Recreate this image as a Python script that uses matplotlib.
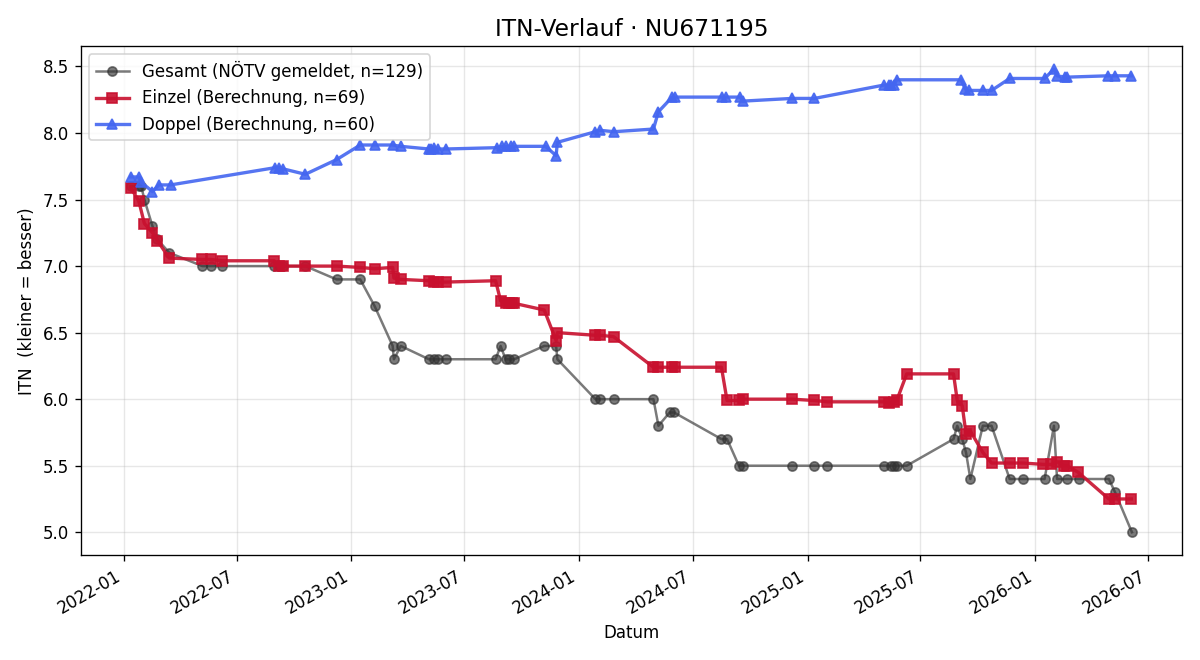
import pandas as pd
import matplotlib
matplotlib.use("Agg")
import matplotlib.pyplot as plt

# Gesamt (reported ITN)
gesamt_dates = ["2022-01-12", "2022-01-25", "2022-01-29", "2022-02-03", "2022-02-16", "2022-02-24",
                "2022-03-15", "2022-05-07", "2022-05-20", "2022-06-08", "2022-08-30", "2022-09-07",
                "2022-09-14", "2022-10-19", "2022-12-08", "2023-01-15", "2023-02-07", "2023-03-08",
                "2023-03-10", "2023-03-21", "2023-05-05", "2023-05-13", "2023-05-19", "2023-06-01",
                "2023-08-20", "2023-08-28", "2023-09-05", "2023-09-11", "2023-09-19", "2023-11-06",
                "2023-11-25", "2023-11-27", "2024-01-27", "2024-02-04", "2024-02-25", "2024-04-29",
                "2024-05-07", "2024-05-25", "2024-06-01", "2024-08-16", "2024-08-25", "2024-09-13",
                "2024-09-20", "2024-12-07", "2025-01-12", "2025-02-02", "2025-05-04", "2025-05-14",
                "2025-05-19", "2025-05-24", "2025-06-09", "2025-08-23", "2025-08-29", "2025-09-06",
                "2025-09-12", "2025-09-19", "2025-10-09", "2025-10-23", "2025-11-21", "2025-12-12",
                "2026-01-16", "2026-01-31", "2026-02-05", "2026-02-21", "2026-03-12", "2026-04-29",
                "2026-05-09", "2026-06-05"]
gesamt_itn = [7.6, 7.6, 7.6, 7.5, 7.3, 7.2,
              7.1, 7.0, 7.0, 7.0, 7.0, 7.0,
              7.0, 7.0, 6.9, 6.9, 6.7, 6.4,
              6.3, 6.4, 6.3, 6.3, 6.3, 6.3,
              6.3, 6.4, 6.3, 6.3, 6.3, 6.4,
              6.4, 6.3, 6.0, 6.0, 6.0, 6.0,
              5.8, 5.9, 5.9, 5.7, 5.7, 5.5,
              5.5, 5.5, 5.5, 5.5, 5.5, 5.5,
              5.5, 5.5, 5.5, 5.7, 5.8, 5.7,
              5.6, 5.4, 5.8, 5.8, 5.4, 5.4,
              5.4, 5.8, 5.4, 5.4, 5.4, 5.4,
              5.3, 5.0]

# Einzel (calculated)
einzel_dates = ["2022-01-12", "2022-01-25", "2022-02-03", "2022-02-16", "2022-02-24", "2022-03-15",
                "2022-05-07", "2022-05-20", "2022-06-08", "2022-08-30", "2022-09-07", "2022-09-14",
                "2022-10-19", "2022-12-08", "2023-01-15", "2023-02-07", "2023-03-08", "2023-03-10",
                "2023-03-21", "2023-05-05", "2023-05-13", "2023-05-19", "2023-06-01", "2023-08-20",
                "2023-08-28", "2023-09-05", "2023-09-11", "2023-09-15", "2023-09-19", "2023-11-06",
                "2023-11-25", "2023-11-27", "2024-01-27", "2024-02-04", "2024-02-25", "2024-04-29",
                "2024-05-07", "2024-05-29", "2024-06-02", "2024-08-16", "2024-08-25", "2024-09-13",
                "2024-09-20", "2024-12-07", "2025-01-12", "2025-02-02", "2025-05-04", "2025-05-12",
                "2025-05-19", "2025-05-24", "2025-06-09", "2025-08-23", "2025-08-29", "2025-09-06",
                "2025-09-12", "2025-09-19", "2025-10-09", "2025-10-23", "2025-11-21", "2025-12-12",
                "2026-01-14", "2026-01-27", "2026-02-05", "2026-02-16", "2026-02-21", "2026-03-11",
                "2026-04-29", "2026-05-09", "2026-06-04"]
einzel_itn = [7.59, 7.49, 7.32, 7.25, 7.19, 7.06,
              7.05, 7.05, 7.04, 7.04, 7.00, 7.00,
              7.00, 7.00, 6.99, 6.98, 6.99, 6.91,
              6.90, 6.89, 6.88, 6.88, 6.88, 6.89,
              6.74, 6.72, 6.72, 6.72, 6.72, 6.67,
              6.44, 6.50, 6.48, 6.48, 6.47, 6.24,
              6.24, 6.24, 6.24, 6.24, 5.99, 5.99,
              6.00, 6.00, 5.99, 5.98, 5.98, 5.97,
              5.98, 5.99, 6.19, 6.19, 5.99, 5.95,
              5.74, 5.76, 5.60, 5.52, 5.52, 5.52,
              5.51, 5.51, 5.53, 5.50, 5.50, 5.45,
              5.25, 5.25, 5.25]

# Doppel (calculated)
doppel_dates = ["2022-01-12", "2022-01-25", "2022-01-29", "2022-02-16", "2022-02-26", "2022-03-17",
                "2022-09-01", "2022-09-07", "2022-09-14", "2022-10-19", "2022-12-08", "2023-01-15",
                "2023-02-07", "2023-03-08", "2023-03-21", "2023-05-05", "2023-05-09", "2023-05-13",
                "2023-05-19", "2023-06-01", "2023-08-23", "2023-08-31", "2023-09-06", "2023-09-13",
                "2023-09-19", "2023-11-08", "2023-11-25", "2023-11-27", "2024-01-27", "2024-02-04",
                "2024-02-26", "2024-04-29", "2024-05-07", "2024-05-29", "2024-06-02", "2024-08-17",
                "2024-08-24", "2024-09-15", "2024-09-20", "2024-12-07", "2025-01-12", "2025-05-03",
                "2025-05-12", "2025-05-14", "2025-05-19", "2025-05-24", "2025-09-04", "2025-09-11",
                "2025-09-17", "2025-10-09", "2025-10-23", "2025-11-21", "2026-01-16", "2026-01-31",
                "2026-02-05", "2026-02-18", "2026-02-21", "2026-04-28", "2026-05-09", "2026-06-04"]
doppel_itn = [7.67, 7.67, 7.63, 7.56, 7.61, 7.61,
              7.74, 7.74, 7.73, 7.69, 7.80, 7.91,
              7.91, 7.91, 7.90, 7.88, 7.88, 7.89,
              7.88, 7.88, 7.89, 7.90, 7.90, 7.90,
              7.90, 7.90, 7.83, 7.93, 8.01, 8.02,
              8.01, 8.03, 8.16, 8.27, 8.27, 8.27,
              8.27, 8.27, 8.24, 8.26, 8.26, 8.36,
              8.36, 8.36, 8.36, 8.40, 8.40, 8.33,
              8.32, 8.32, 8.32, 8.41, 8.41, 8.48,
              8.43, 8.42, 8.42, 8.43, 8.43, 8.43]

fig, ax = plt.subplots(figsize=(10, 5.5), dpi=120)

ax.plot(pd.to_datetime(gesamt_dates), gesamt_itn, color="#333333", alpha=0.65, marker="o",
        markersize=5.5, linewidth=1.5, label="Gesamt (NÖTV gemeldet, n=129)")
ax.plot(pd.to_datetime(einzel_dates), einzel_itn, color="#c8102e", alpha=0.9, marker="s",
        markersize=6.5, linewidth=2, label="Einzel (Berechnung, n=69)")
ax.plot(pd.to_datetime(doppel_dates), doppel_itn, color="#4466f0", alpha=0.9, marker="^",
        markersize=6.5, linewidth=2, label="Doppel (Berechnung, n=60)")

ax.set_title("ITN-Verlauf · NU671195", fontsize=14)
ax.set_xlabel("Datum")
ax.set_ylabel("ITN  (kleiner = besser)")
ax.grid(True, alpha=0.3)
ax.legend(loc="upper left")
fig.autofmt_xdate()

plt.tight_layout()
plt.savefig("out.png")
